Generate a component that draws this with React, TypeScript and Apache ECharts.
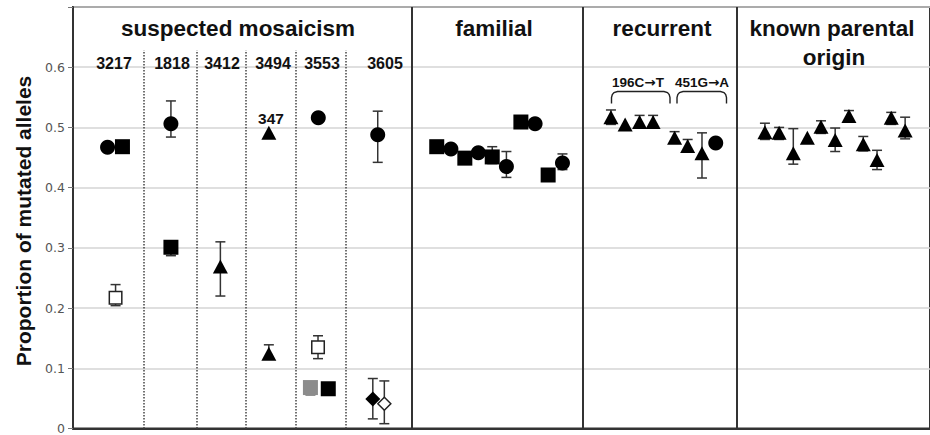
import React, { useEffect, useRef } from 'react';
import * as echarts from 'echarts';

// ---- categories / labels ----
const groupTitles = ['suspected mosaicism', 'familial', 'recurrent', 'known parental', 'origin'];
const mosaicCases = ['3217', '1818', '3412', '3494', '3553', '3605'];
const recurrentLabels = [['196C', 'T'], ['451G', 'A']];
const noteLabel = '347';
const yTitle = 'Proportion of mutated alleles';
const yTicks = [0, 0.1, 0.2, 0.3, 0.4, 0.5, 0.6, 0.7];

// x slot positions of boundaries between case columns and between groups
const dottedBounds = [5.07, 8.8, 12.32, 15.85, 19.44];
const dottedTop = 0.628;
const solidBounds = [24.08, 36.27, 47.25];

// ---- series values: [slot, proportion] ----
const filledCircles: [number, number][] = [
  [2.46, 0.467], [6.97, 0.506], [17.46, 0.516], [21.69, 0.488],
  [26.9, 0.464], [28.85, 0.458], [30.85, 0.435], [32.89, 0.506], [34.84, 0.441],
  [45.75, 0.474],
];
const filledSquares: [number, number][] = [
  [3.52, 0.468], [6.97, 0.301], [18.17, 0.066],
  [25.89, 0.468], [27.89, 0.449], [29.84, 0.451], [31.88, 0.509], [33.82, 0.421],
];
const openSquares: [number, number][] = [[3.03, 0.217], [17.44, 0.135]];
const graySquares: [number, number][] = [[16.9, 0.068]];
const filledTriangles: [number, number][] = [
  [10.49, 0.269], [13.94, 0.491], [13.94, 0.124],
  [38.29, 0.517], [39.3, 0.505], [40.33, 0.509], [41.29, 0.509],
  [42.82, 0.483], [43.75, 0.469], [44.77, 0.457],
  [49.25, 0.492], [50.26, 0.491], [51.27, 0.457], [52.27, 0.483], [53.24, 0.501],
  [54.25, 0.479], [55.23, 0.519], [56.25, 0.472], [57.23, 0.446], [58.24, 0.516], [59.23, 0.495],
];
const filledDiamonds: [number, number][] = [[21.34, 0.049]];
const openDiamonds: [number, number][] = [[22.16, 0.041]];

// ---- error bars: [slot, low, high] ----
const errorBars: [number, number, number][] = [
  [3.03, 0.204, 0.239], [6.97, 0.484, 0.544], [6.97, 0.287, 0.305], [10.49, 0.22, 0.31],
  [13.94, 0.115, 0.139], [17.44, 0.116, 0.154], [16.9, 0.056, 0.075], [18.17, 0.056, 0.074],
  [21.69, 0.442, 0.527], [21.34, 0.016, 0.083], [22.16, 0.008, 0.079],
  [29.84, 0.44, 0.468], [30.85, 0.417, 0.46], [34.84, 0.43, 0.456],
  [38.29, 0.505, 0.529], [40.33, 0.5, 0.52], [41.29, 0.5, 0.52], [42.82, 0.475, 0.493],
  [43.75, 0.46, 0.48], [44.77, 0.416, 0.491],
  [49.25, 0.48, 0.507], [50.26, 0.48, 0.5], [51.27, 0.439, 0.498], [53.24, 0.49, 0.511],
  [54.25, 0.46, 0.499], [55.23, 0.51, 0.528], [56.25, 0.461, 0.485], [57.23, 0.43, 0.462],
  [58.24, 0.505, 0.525], [59.23, 0.481, 0.517],
];

const FONT = '"Liberation Sans", Arial, Helvetica, sans-serif';

function txt(text: string, x: number, y: number, size: number, extra: any = {}) {
  return {
    type: 'text',
    x,
    y,
    silent: true,
    z: 10,
    ...extra,
    style: {
      text,
      fill: '#111',
      fontSize: size,
      fontWeight: 'bold',
      fontFamily: FONT,
      align: 'center',
      textAlign: 'center',
      verticalAlign: 'middle',
      textVerticalAlign: 'middle',
    },
  };
}

function mutationLabel(parts: string[], x: number, y: number) {
  return {
    type: 'text',
    x,
    y,
    silent: true,
    z: 10,
    style: {
      text: `{a|${parts[0]}}{b|\u2192}{a|${parts[1]}}`,
      fill: '#111',
      align: 'center',
      textAlign: 'center',
      verticalAlign: 'middle',
      textVerticalAlign: 'middle',
      rich: {
        a: { fontSize: 13.5, fontWeight: 'bold', fontFamily: FONT, fill: '#111', color: '#111' },
        b: { fontSize: 13.5, fontWeight: 'bold', fontFamily: '"DejaVu Sans", sans-serif', fill: '#111', color: '#111' },
      },
    },
  };
}

function bracket(x0: number, x1: number, y0: number, y1: number) {
  return {
    type: 'polyline',
    silent: true,
    z: 10,
    shape: {
      points: [
        [x0, y1], [x0, y0 + 6], [x0 + 0.8, y0 + 3], [x0 + 2.5, y0 + 1], [x0 + 6, y0],
        [x1 - 6, y0], [x1 - 2.5, y0 + 1], [x1 - 0.8, y0 + 3], [x1, y0 + 6], [x1, y1],
      ],
    },
    style: { stroke: '#222', lineWidth: 1.4, fill: null },
  };
}

function scatter(data: [number, number][], symbol: string, size: any, itemStyle: any) {
  return {
    type: 'scatter',
    data,
    symbol,
    symbolSize: size,
    itemStyle: { opacity: 1, ...itemStyle },
    z: 5,
    silent: true,
  };
}

export default function App() {
  const ref = useRef<HTMLDivElement>(null);
  useEffect(() => {
    const chart = echarts.init(ref.current!, null, { renderer: 'svg' });
    const mosaicLabelX = [114, 172, 222, 273, 322, 385];
    const option: any = {
      animation: false,
      backgroundColor: '#fff',
      grid: {
        left: 73,
        top: 7,
        bottom: 2,
        right: -9.2,
        show: true,
        borderColor: '#333',
        borderWidth: 2,
      },
      xAxis: {
        type: 'value',
        min: 0,
        max: 61,
        axisLine: { show: true, lineStyle: { color: '#333', width: 2 } },
        axisTick: { show: false },
        axisLabel: { show: false },
        splitLine: { show: false },
      },
      yAxis: {
        type: 'value',
        min: yTicks[0],
        max: yTicks[yTicks.length - 1],
        interval: 0.1,
        axisLine: { show: true, lineStyle: { color: '#333', width: 2 } },
        axisTick: { show: true, length: 5, lineStyle: { color: '#777' } },
        axisLabel: {
          color: '#555',
          fontFamily: '"DejaVu Sans", Verdana, sans-serif',
          fontSize: 12.5,
          margin: 8,
          formatter: (v: number) => (v >= 0.69 ? '' : v === 0 ? '0' : v.toFixed(1)),
        },
        splitLine: { show: true, lineStyle: { color: '#d4d4d4', width: 1.5 } },
      },
      series: [
        {
          type: 'line',
          data: [],
          silent: true,
          z: 1,
          markLine: {
            silent: true,
            symbol: ['none', 'none'],
            label: { show: false },
            data: [
              ...dottedBounds.map((v) => [
                { coord: [v, 0], lineStyle: { color: '#444', width: 1.5, type: [1.5, 1.5] } },
                { coord: [v, dottedTop] },
              ]),
              ...solidBounds.map((v) => ({
                xAxis: v,
                lineStyle: { color: '#333', width: 2, type: 'solid' },
              })),
            ],
          },
        },
        {
          type: 'custom',
          data: errorBars,
          z: 2,
          silent: true,
          encode: { x: 0, y: [1, 2] },
          renderItem: (_p: any, api: any) => {
            const x = api.value(0);
            const lo = api.coord([x, api.value(1)]);
            const hi = api.coord([x, api.value(2)]);
            const hw = 5;
            const st = { stroke: '#333', lineWidth: 1.5 };
            return {
              type: 'group',
              children: [
                { type: 'line', shape: { x1: lo[0], y1: lo[1], x2: hi[0], y2: hi[1] }, style: st },
                { type: 'line', shape: { x1: lo[0] - hw, y1: lo[1], x2: lo[0] + hw, y2: lo[1] }, style: st },
                { type: 'line', shape: { x1: hi[0] - hw, y1: hi[1], x2: hi[0] + hw, y2: hi[1] }, style: st },
              ],
            };
          },
        },
        scatter(filledCircles, 'circle', 15, { color: '#000' }),
        scatter(filledSquares, 'rect', 15, { color: '#000' }),
        scatter(graySquares, 'rect', 15, { color: '#8c8c8c' }),
        scatter(openSquares, 'rect', 12.5, { color: '#fff', borderColor: '#222', borderWidth: 1.5 }),
        scatter(filledTriangles, 'triangle', [15, 14], { color: '#000' }),
        scatter(filledDiamonds, 'diamond', [15, 15], { color: '#000' }),
        scatter(openDiamonds, 'diamond', [13, 13], { color: '#fff', borderColor: '#222', borderWidth: 1.5 }),
      ],
      graphic: [
        txt(yTitle, 23, 221, 21, { rotation: Math.PI / 2 }),
        txt(groupTitles[0], 238, 28, 22.5),
        txt(groupTitles[1], 494, 28, 22.5),
        txt(groupTitles[2], 662, 28, 22.5),
        txt(groupTitles[3], 832, 28, 22.5),
        txt(groupTitles[4], 834, 57, 22.5),
        ...mosaicCases.map((c, i) => txt(c, mosaicLabelX[i], 63, 16)),
        txt(noteLabel, 271, 118, 15.5),
        mutationLabel(recurrentLabels[0], 638, 82),
        mutationLabel(recurrentLabels[1], 702, 82),
        bracket(611.5, 670, 91.5, 103.5),
        bracket(677, 726.5, 91.5, 103.5),
      ],
    };
    chart.setOption(option);
    return () => chart.dispose();
  }, []);
  return (
    <div
      ref={ref}
      style={{ position: 'absolute', left: 0, top: 0, width: 930, height: 435 }}
    />
  );
}
